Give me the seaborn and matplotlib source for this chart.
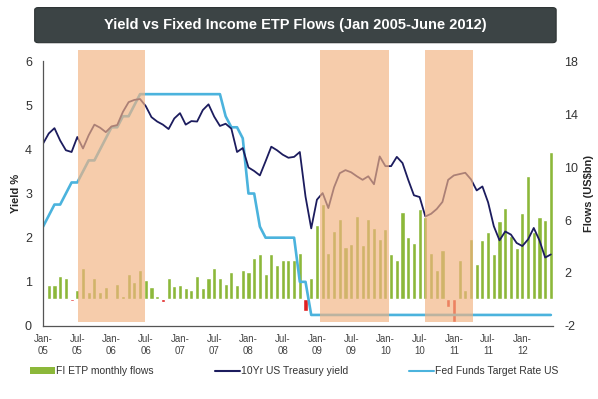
import numpy as np
import pandas as pd
import matplotlib
matplotlib.use('Agg')
import matplotlib.pyplot as plt
from matplotlib.patches import FancyBboxPatch, Patch
from matplotlib.lines import Line2D
import seaborn as sns

# month-end values, Jan 2005 - Jun 2012
treasury_10y = [4.13, 4.36, 4.48, 4.20, 3.98, 3.94, 4.28, 4.02, 4.32, 4.56, 4.49, 4.39,
                4.52, 4.55, 4.85, 5.07, 5.12, 5.14, 4.98, 4.73, 4.63, 4.56, 4.46, 4.70,
                4.82, 4.56, 4.64, 4.63, 4.89, 5.02, 4.74, 4.53, 4.58, 4.47, 3.94, 4.03,
                3.59, 3.51, 3.41, 3.73, 4.06, 3.98, 3.88, 3.81, 3.83, 3.94, 2.93, 2.21,
                2.86, 3.01, 2.67, 3.14, 3.46, 3.53, 3.48, 3.39, 3.31, 3.39, 3.21, 3.84,
                3.62, 3.62, 3.83, 3.69, 3.31, 2.96, 2.92, 2.48, 2.54, 2.65, 2.81, 3.31,
                3.41, 3.44, 3.47, 3.32, 3.07, 3.16, 2.80, 2.26, 1.94, 2.14, 2.07, 1.88,
                1.81, 1.96, 2.22, 1.94, 1.55, 1.62]
fed_funds = [2.25, 2.50, 2.75, 2.75, 3.00, 3.25, 3.25, 3.50, 3.75, 3.75, 4.00, 4.25,
             4.50, 4.50, 4.75, 4.75, 5.00, 5.25, 5.25, 5.25, 5.25, 5.25, 5.25, 5.25,
             5.25, 5.25, 5.25, 5.25, 5.25, 5.25, 5.25, 5.25, 4.75, 4.50, 4.50, 4.25,
             3.00, 3.00, 2.25, 2.00, 2.00, 2.00, 2.00, 2.00, 2.00, 1.00, 1.00, 0.25] + [0.25] * 42
# FI ETP monthly flows, US$bn
flows = [1.1, 1.1, 1.8, 1.6, -0.1, 0.7, 2.4, 0.6, 1.6, 0.6, 0.95, 0.1, 1.2, 0.3, 1.9,
         1.3, 2.2, 1.5, 0.95, 0.3, -0.2, 1.6, 1.0, 1.1, 0.9, 0.7, 1.8, 0.9, 1.6, 2.4,
         1.6, 1.2, 2.1, 1.1, 2.2, 2.1, 3.1, 3.4, 1.9, 3.4, 2.6, 3.0, 3.0, 3.0, 3.5,
         -0.9, 1.6, 5.6, 7.2, 3.5, 5.2, 6.1, 4.0, 4.2, 6.3, 4.1, 6.1, 5.4, 4.6, 5.3,
         3.4, 3.0, 6.6, 4.7, 4.3, 6.8, 6.2, 3.5, 2.2, 3.7, -0.55, -1.7, 3.0, 0.7, 4.6,
         2.7, 4.5, 5.1, 3.4, 5.9, 6.9, 4.8, 3.9, 6.5, 9.3, 5.1, 6.2, 6.0, 11.1]
tick_labels = ['Jan-\n05', 'Jul-\n05', 'Jan-\n06', 'Jul-\n06', 'Jan-\n07', 'Jul-\n07',
               'Jan-\n08', 'Jul-\n08', 'Jan-\n09', 'Jul-\n09', 'Jan-\n10', 'Jul-\n10',
               'Jan-\n11', 'Jul-\n11', 'Jan-\n12']
# shaded periods, in months from Jan 2005
shade_start = [6.1, 48.6, 67.0]
shade_end = [17.8, 60.7, 75.3]

green = '#8cb83a'
red = '#e02020'
navy = '#1c1c5e'
light_blue = '#4bb3dd'
peach = '#f3b382'

sns.set_style('white')
plt.rcParams['font.family'] = ['Liberation Sans', 'DejaVu Sans']
plt.rcParams['axes.unicode_minus'] = False

months = np.arange(len(treasury_10y))
lines = pd.DataFrame({'month': months, 'yield': treasury_10y, 'fed': fed_funds})
bars = pd.DataFrame({'pos': np.arange(len(flows)) + 1.0, 'flow': flows})
bars['sign'] = np.where(bars['flow'] < 0, 'out', 'in')

fig = plt.figure(figsize=(5.98, 3.99), dpi=100)
ax = fig.add_axes([0.072, 0.183, 0.853, 0.664])
ax2 = ax.twinx()

sns.barplot(data=bars, x='pos', y='flow', hue='sign', palette={'in': green, 'out': red},
            native_scale=True, width=0.72, dodge=False, errorbar=None, legend=False,
            ax=ax2, saturation=1)

sns.lineplot(data=lines, x='month', y='fed', color=light_blue, lw=1.9, ax=ax)
sns.lineplot(data=lines, x='month', y='yield', color=navy, lw=1.3, ax=ax)

ax.set_zorder(ax2.get_zorder() + 1)
ax.patch.set_visible(False)

for s, e in zip(shade_start, shade_end):
    ax.axvspan(s, e, ymin=0.015, ymax=1.04, color=peach, alpha=0.67, lw=0,
               zorder=5, clip_on=False)

ax.set_xlim(0, 89.4)
ax.set_ylim(0, 6)
ax2.set_ylim(-2, 18)
ax.set_xticks(np.arange(0, 90, 6))
ax.set_xticklabels(tick_labels)
ax.set_yticks(range(7))
ax2.set_yticks([-2, 2, 6, 10, 14, 18])

ax.tick_params(axis='x', labelsize=7, colors='#444444', length=3, width=0.8, pad=3)
ax.tick_params(axis='y', labelsize=9, colors='#333333', length=0, pad=8)
ax2.tick_params(axis='y', labelsize=9, colors='#333333', length=0, pad=8)

ax.set_xlabel('')
ax.set_ylabel('Yield %', fontsize=8, fontweight='bold', labelpad=3)
ax2.set_ylabel('Flows (US$bn)', fontsize=8, fontweight='bold', labelpad=4)

for a in (ax, ax2):
    for side in ('top', 'right', 'left', 'bottom'):
        a.spines[side].set_visible(False)
ax.spines['left'].set_visible(True)
ax.spines['bottom'].set_visible(True)
ax.spines['left'].set_color('#555555')
ax.spines['bottom'].set_color('#555555')
ax.spines['left'].set_linewidth(0.9)
ax.spines['bottom'].set_linewidth(0.9)

# title banner
banner = FancyBboxPatch((0.058, 0.893), 0.872, 0.088, boxstyle='round,pad=0,rounding_size=0.006',
                        transform=fig.transFigure, facecolor='#3c4445', edgecolor='#2c3233', lw=0.8)
fig.patches.append(banner)
fig.text(0.494, 0.937, 'Yield vs Fixed Income ETP Flows (Jan 2005-June 2012)', color='white',
         fontsize=10.5, fontweight='bold', ha='center', va='center')

handles = [Patch(facecolor=green, edgecolor='none'),
           Line2D([], [], color=navy, lw=1.5),
           Line2D([], [], color=light_blue, lw=1.5)]
labels = ['FI ETP monthly flows', '10Yr US Treasury yield', 'Fed Funds Target Rate US']
fig.legend(handles, labels, loc='center', ncol=3, mode='expand', frameon=False,
           bbox_to_anchor=(0.035, 0.045, 0.915, 0.05), fontsize=7.5, handlelength=2.4,
           handleheight=0.6, handletextpad=0.1, labelcolor='#333333')

fig.savefig('out.png', dpi=100)
